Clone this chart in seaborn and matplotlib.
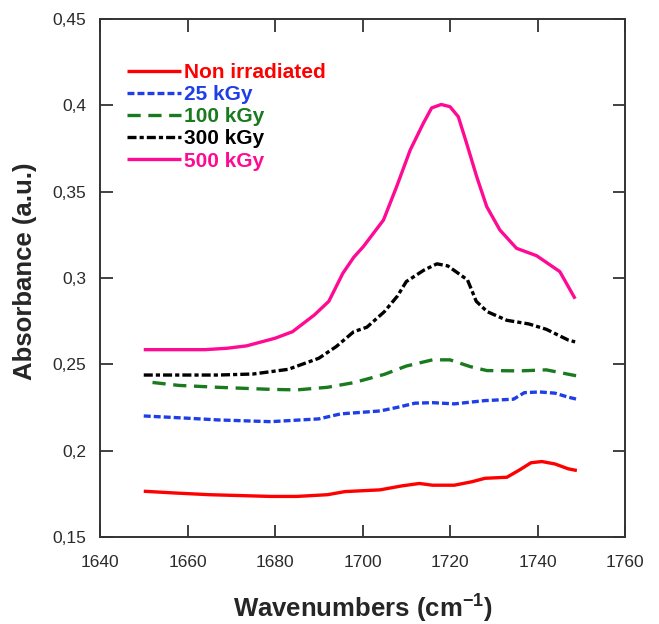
import numpy as np
import pandas as pd
import matplotlib
matplotlib.use("Agg")
import matplotlib.pyplot as plt
import seaborn as sns

# ---- data ----
wn_non = [1650, 1657, 1665, 1672, 1679, 1685, 1692, 1696, 1704, 1709, 1713, 1716,
          1721, 1725, 1728, 1733, 1736, 1738.5, 1741, 1744, 1747, 1749]
abs_non = [0.1765, 0.1755, 0.1745, 0.1740, 0.1735, 0.1735, 0.1745, 0.1763, 0.1773, 0.1796, 0.1810, 0.1800,
           0.1800, 0.1820, 0.1840, 0.1846, 0.1890, 0.1930, 0.1937, 0.1923, 0.1895, 0.1885]

wn_25 = [1650, 1660, 1667, 1679, 1690, 1695, 1704, 1708, 1712, 1716, 1721, 1728,
         1734.5, 1737, 1740.5, 1744, 1747, 1749]
abs_25 = [0.2201, 0.2188, 0.2178, 0.2168, 0.2184, 0.2213, 0.2230, 0.2251, 0.2275, 0.2278, 0.2271, 0.2290,
          0.2298, 0.2336, 0.2340, 0.2333, 0.2310, 0.2298]

wn_100 = [1652, 1658, 1667, 1679, 1685, 1692, 1698, 1705, 1710, 1716, 1720, 1724.6,
          1728.4, 1736, 1742, 1746, 1749]
abs_100 = [0.2395, 0.2378, 0.2367, 0.2355, 0.2352, 0.2367, 0.2394, 0.2442, 0.2490, 0.2526, 0.2526, 0.2487,
           0.2464, 0.2462, 0.2468, 0.2448, 0.2433]

wn_300 = [1650, 1667, 1675, 1683, 1690, 1694, 1698, 1701, 1705, 1708, 1710, 1714,
          1717, 1719.5, 1724, 1726, 1728.5, 1733, 1738, 1742, 1747, 1748.6]
abs_300 = [0.2438, 0.2438, 0.2444, 0.2471, 0.2535, 0.2603, 0.2689, 0.2715, 0.2805, 0.2896, 0.2979, 0.3045,
           0.3082, 0.3070, 0.2989, 0.2865, 0.2805, 0.2755, 0.2734, 0.2703, 0.2641, 0.2630]

wn_500 = [1650, 1664, 1669, 1673.5, 1680, 1684, 1689, 1692.3, 1695.5, 1698, 1700.2, 1704.8,
          1707.8, 1710.9, 1713.9, 1715.8, 1718, 1720, 1721.9, 1723.8, 1726.1, 1728.4, 1731.4,
          1735.2, 1739.8, 1745.1, 1748.6]
abs_500 = [0.2585, 0.2585, 0.2593, 0.2607, 0.2651, 0.2689, 0.2786, 0.2865, 0.3027, 0.3120, 0.3182, 0.3336,
           0.3529, 0.3741, 0.3896, 0.3985, 0.4005, 0.3992, 0.3934, 0.3780, 0.3587, 0.3413, 0.3278,
           0.3172, 0.3129, 0.3037, 0.2880]

labels = ["Non irradiated", "25 kGy", "100 kGy", "300 kGy", "500 kGy"]
xticks = [1640, 1660, 1680, 1700, 1720, 1740, 1760]
yticks = [0.15, 0.2, 0.25, 0.3, 0.35, 0.4, 0.45]
yticklabels = ["0,15", "0,2", "0,25", "0,3", "0,35", "0,4", "0,45"]

series = [
    (wn_non, abs_non, labels[0], "#ff0000", "-"),
    (wn_25, abs_25, labels[1], "#1f3fe6", (0, (5, 2.2))),
    (wn_100, abs_100, labels[2], "#1a7a1e", (0, (9.5, 5.5))),
    (wn_300, abs_300, labels[3], "#000000", (0, (6.5, 2.2, 3, 2.2))),
    (wn_500, abs_500, labels[4], "#ff0a93", "-"),
]

sns.set_style("ticks")
plt.rcParams["font.family"] = ["Liberation Sans", "DejaVu Sans"]
plt.rcParams["lines.scale_dashes"] = False
plt.rcParams["mathtext.fontset"] = "custom"
plt.rcParams["mathtext.rm"] = "Liberation Sans"
plt.rcParams["mathtext.bf"] = "Liberation Sans:bold"
plt.rcParams["xtick.top"] = True
plt.rcParams["xtick.bottom"] = True
plt.rcParams["ytick.left"] = True
plt.rcParams["ytick.right"] = True
plt.rcParams["xtick.direction"] = "in"
plt.rcParams["ytick.direction"] = "in"

fig = plt.figure(figsize=(6.59, 6.24), dpi=100)
ax = fig.add_axes([100 / 659, 1 - 537 / 624, 525 / 659, 518 / 624])

for wn, ab, lab, col, ls in series:
    df = pd.DataFrame({"wn": wn, "abs": ab})
    sns.lineplot(data=df, x="wn", y="abs", ax=ax, color=col, linewidth=2.4,
                 linestyle=ls, label=lab, solid_capstyle="butt", dash_capstyle="butt")

ax.set_xlim(1640, 1760)
ax.set_ylim(0.15, 0.45)
ax.set_xticks(xticks)
ax.set_xticklabels([str(t) for t in xticks])
ax.set_yticks(yticks)
ax.set_yticklabels(yticklabels)
ax.tick_params(axis="both", which="major", direction="in", length=9, width=1.3, colors="#333333",
               labelsize=12.5, labelcolor="#2a2a2a", top=True, bottom=True, left=True, right=True,
               labeltop=False, labelright=False, labelbottom=True, labelleft=True)
ax.tick_params(axis="x", pad=13)
ax.tick_params(axis="y", pad=10)
for sp in ax.spines.values():
    sp.set_visible(True)
    sp.set_color("#333333")
    sp.set_linewidth(1.4)

ax.set_xlabel("Wavenumbers (cm$^{\\mathbf{-1}}$)", fontsize=18.5, fontweight="bold", labelpad=15)
ax.set_ylabel("Absorbance (a.u.)", fontsize=18.5, fontweight="bold")
ax.yaxis.set_label_coords(-0.12, 0.5135)

leg = ax.legend(loc="upper left", bbox_to_anchor=(0.051, 0.915), frameon=False,
                handlelength=2.6, handletextpad=0.15, labelspacing=0.15, borderpad=0,
                prop={"weight": "bold", "size": 15}, labelcolor="linecolor", borderaxespad=0)

fig.savefig("out.png", dpi=100)
